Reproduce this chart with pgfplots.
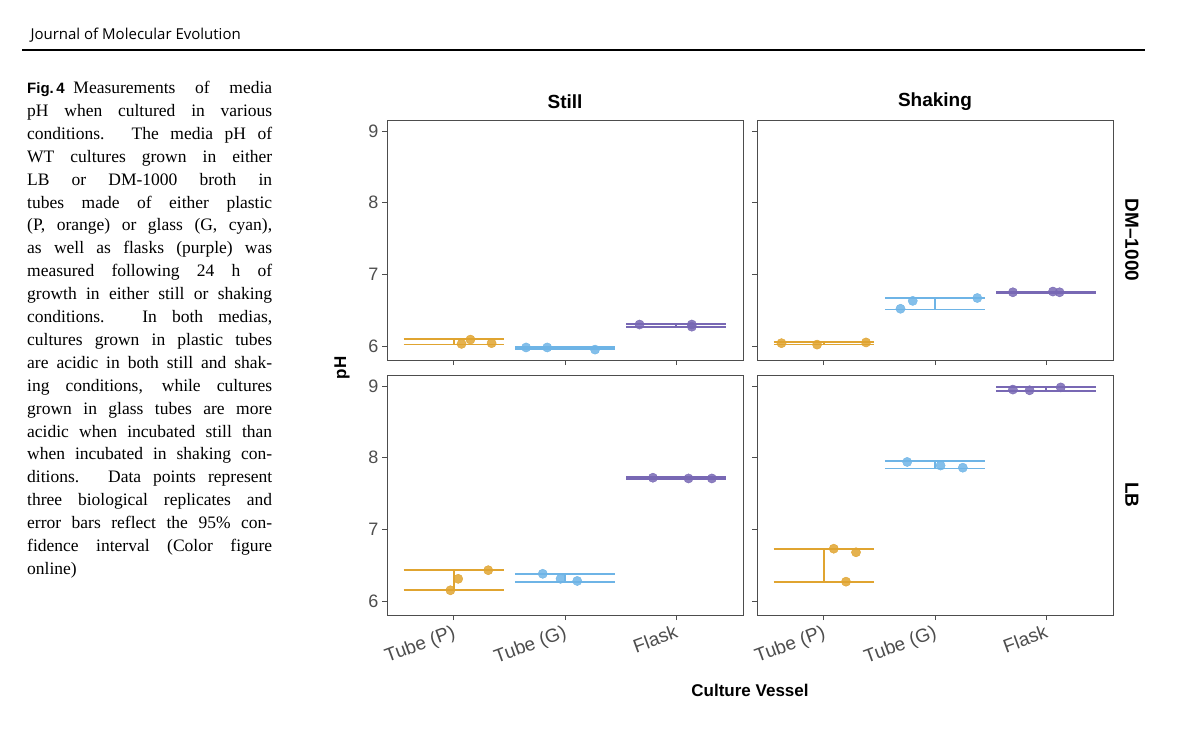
\documentclass[border=0pt]{standalone}
\usepackage{pgfplots}
\pgfplotsset{compat=1.18}
\usepackage{fontspec}
\setmainfont{Liberation Serif}
\newfontfamily\hsans{Liberation Sans}
\newfontfamily\hdr{Open Sans}
\definecolor{cP}{HTML}{E0A430}
\definecolor{cG}{HTML}{6EB4E6}
\definecolor{cF}{HTML}{7868B4}
\definecolor{tk}{HTML}{4D4D4D}
\pgfplotsset{
 panel/.style={scale only axis, width=356pt, height=240pt,
  xmin=0.4, xmax=3.6, ymin=5.805, ymax=9.153,
  axis line style={draw=tk, line width=0.9pt},
  xtick={1,2,3}, ytick={6,7,8,9},
  tick style={draw=tk, line width=0.9pt},
  tick align=outside, major tick length=5pt,
  xticklabels={}, yticklabels={}, xtick pos=bottom, ytick pos=left,
  ticklabel style={font=\hsans\fontsize{18}{18}\selectfont, text=tk},
  unbounded coords=jump, clip=false},
 pts/.style={only marks, mark=*, mark size=4.6pt, mark options={draw=none, fill opacity=0.85}},
 eb/.style={line width=1.8pt, mark=none},
}
\begin{document}
\begin{tikzpicture}
\path[use as bounding box] (0pt,0pt) rectangle (1200pt,-732pt);
\node[anchor=base west, font=\hdr\fontsize{15}{15}\selectfont] at (27pt,-39pt) {Journal of Molecular Evolution};
\draw[line width=2pt] (22pt,-50pt) -- (1145pt,-50pt);
\node[anchor=north west, inner sep=0pt, text width=245pt, align=justify, font=\fontsize{17.5}{22.9}\selectfont] at (27pt,-81pt) {%
{\hsans\bfseries\fontsize{15}{15}\selectfont Fig.\,4}\enspace Measurements of media\linebreak
pH when cultured in various\linebreak
conditions. The media pH of\linebreak
WT cultures grown in either\linebreak
LB or DM-1000 broth in\linebreak
tubes made of either plastic\linebreak
(P, orange) or glass (G, cyan),\linebreak
as well as flasks (purple) was\linebreak
measured following 24 h of\linebreak
growth in either still or shaking\linebreak
conditions. In both medias,\linebreak
cultures grown in plastic tubes\linebreak
are acidic in both still and shak-\linebreak
ing conditions, while cultures\linebreak
grown in glass tubes are more\linebreak
acidic when incubated still than\linebreak
when incubated in shaking con-\linebreak
ditions. Data points represent\linebreak
three biological replicates and\linebreak
error bars reflect the 95\% con-\linebreak
fidence interval (Color figure\linebreak
online)\par};
% Still DM
\begin{axis}[panel, at={(387pt,-360pt)}, anchor=south west, yticklabels={6,7,8,9}]
\addplot[eb,cP] coordinates {(0.55,6.02)(1.45,6.02)(1,nan)(0.55,6.10)(1.45,6.10)(1,nan)(1,6.02)(1,6.10)};
\addplot[eb,cG] coordinates {(1.55,5.96)(2.45,5.96)(2,nan)(1.55,5.99)(2.45,5.99)(2,nan)(2,5.96)(2,5.99)};
\addplot[eb,cF] coordinates {(2.55,6.27)(3.45,6.27)(3,nan)(2.55,6.31)(3.45,6.31)(3,nan)(3,6.27)(3,6.31)};
\addplot[pts,cP] coordinates {(1.07,6.03)(1.15,6.09)(1.34,6.04)};
\addplot[pts,cG] coordinates {(1.65,5.98)(1.84,5.98)(2.27,5.95)};
\addplot[pts,cF] coordinates {(2.67,6.30)(3.14,6.30)(3.14,6.27)};
\end{axis}
% Shaking DM
\begin{axis}[panel, at={(757pt,-360pt)}, anchor=south west]
\addplot[eb,cP] coordinates {(0.55,6.02)(1.45,6.02)(1,nan)(0.55,6.06)(1.45,6.06)(1,nan)(1,6.02)(1,6.06)};
\addplot[eb,cG] coordinates {(1.55,6.51)(2.45,6.51)(2,nan)(1.55,6.67)(2.45,6.67)(2,nan)(2,6.51)(2,6.67)};
\addplot[eb,cF] coordinates {(2.55,6.74)(3.45,6.74)(3,nan)(2.55,6.76)(3.45,6.76)(3,nan)(3,6.74)(3,6.76)};
\addplot[pts,cP] coordinates {(0.62,6.04)(0.94,6.02)(1.38,6.05)};
\addplot[pts,cG] coordinates {(1.69,6.52)(1.80,6.63)(2.38,6.67)};
\addplot[pts,cF] coordinates {(2.70,6.75)(3.06,6.76)(3.12,6.75)};
\end{axis}
% Still LB
\begin{axis}[panel, at={(387pt,-615pt)}, anchor=south west, yticklabels={6,7,8,9},
  xticklabels={Tube (P),Tube (G),Flask}, x tick label style={rotate=20, anchor=north east, font=\hsans\fontsize{19}{19}\selectfont}]
\addplot[eb,cP] coordinates {(0.55,6.15)(1.45,6.15)(1,nan)(0.55,6.43)(1.45,6.43)(1,nan)(1,6.15)(1,6.43)};
\addplot[eb,cG] coordinates {(1.55,6.27)(2.45,6.27)(2,nan)(1.55,6.38)(2.45,6.38)(2,nan)(2,6.27)(2,6.38)};
\addplot[eb,cF] coordinates {(2.55,7.70)(3.45,7.70)(3,nan)(2.55,7.73)(3.45,7.73)(3,nan)(3,7.70)(3,7.73)};
\addplot[pts,cP] coordinates {(0.97,6.15)(1.04,6.31)(1.31,6.43)};
\addplot[pts,cG] coordinates {(1.80,6.38)(1.96,6.31)(2.11,6.28)};
\addplot[pts,cF] coordinates {(2.79,7.72)(3.11,7.71)(3.32,7.71)};
\end{axis}
% Shaking LB
\begin{axis}[panel, at={(757pt,-615pt)}, anchor=south west,
  xticklabels={Tube (P),Tube (G),Flask}, x tick label style={rotate=20, anchor=north east, font=\hsans\fontsize{19}{19}\selectfont}]
\addplot[eb,cP] coordinates {(0.55,6.26)(1.45,6.26)(1,nan)(0.55,6.73)(1.45,6.73)(1,nan)(1,6.26)(1,6.73)};
\addplot[eb,cG] coordinates {(1.55,7.85)(2.45,7.85)(2,nan)(1.55,7.95)(2.45,7.95)(2,nan)(2,7.85)(2,7.95)};
\addplot[eb,cF] coordinates {(2.55,8.93)(3.45,8.93)(3,nan)(2.55,8.99)(3.45,8.99)(3,nan)(3,8.93)(3,8.99)};
\addplot[pts,cP] coordinates {(1.09,6.73)(1.20,6.27)(1.29,6.68)};
\addplot[pts,cG] coordinates {(1.75,7.94)(2.05,7.89)(2.25,7.86)};
\addplot[pts,cF] coordinates {(2.70,8.95)(2.85,8.94)(3.13,8.98)};
\end{axis}
\node[font=\hsans\bfseries\fontsize{19}{19}\selectfont] at (565pt,-102pt) {Still};
\node[font=\hsans\bfseries\fontsize{19}{19}\selectfont] at (935pt,-102pt) {Shaking};
\node[rotate=-90, font=\hsans\bfseries\fontsize{19}{19}\selectfont] at (1132pt,-240pt) {DM–1000};
\node[rotate=-90, font=\hsans\bfseries\fontsize{19}{19}\selectfont] at (1132pt,-495pt) {LB};
\node[rotate=90, font=\hsans\bfseries\fontsize{17}{17}\selectfont] at (342pt,-368pt) {pH};
\node[font=\hsans\bfseries\fontsize{17}{17}\selectfont] at (750pt,-690pt) {Culture Vessel};
\end{tikzpicture}
\end{document}
